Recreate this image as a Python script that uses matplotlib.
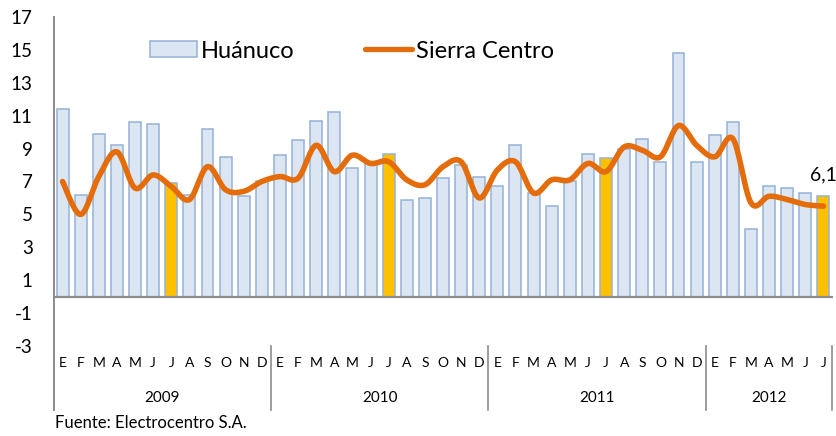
import numpy as np
import matplotlib
matplotlib.use("Agg")
import matplotlib.pyplot as plt
from matplotlib.patches import Patch
from matplotlib.lines import Line2D
import matplotlib.transforms as mtransforms

plt.rcParams['font.family'] = ['Lato', 'DejaVu Sans']

months = ["E", "F", "M", "A", "M", "J", "J", "A", "S", "O", "N", "D"]
years = ["2009", "2010", "2011", "2012"]
months_per_year = [12, 12, 12, 7]

huanuco = [11.4, 6.2, 9.9, 9.2, 10.6, 10.5, 6.9, 6.2, 10.2, 8.5, 6.1, 7.0,
           8.6, 9.5, 10.7, 11.2, 7.8, 8.1, 8.7, 5.9, 6.0, 7.2, 8.0, 7.3,
           6.7, 9.2, 6.3, 5.5, 7.0, 8.7, 8.4, 9.0, 9.6, 8.2, 14.8, 8.2,
           9.8, 10.6, 4.1, 6.7, 6.6, 6.3, 6.1]
sierra_centro = [7.0, 5.0, 7.3, 8.8, 6.6, 7.4, 6.7, 5.9, 7.9, 6.5, 6.4, 7.0,
                 7.3, 7.2, 9.2, 7.6, 8.6, 8.1, 8.2, 7.1, 6.8, 7.9, 8.2, 6.0,
                 7.7, 8.2, 6.3, 7.1, 7.1, 8.1, 7.6, 9.1, 8.9, 8.5, 10.4, 9.2,
                 8.5, 9.6, 5.7, 6.1, 5.9, 5.6, 5.5]
last_label = "6,1"

BAR_FILL = "#DCE6F2"
BAR_EDGE = "#95B3D7"
HIGHLIGHT = "#FFC000"
LINE_COLOR = "#E46C0A"
AXIS_GRAY = "#8C8C8C"


def smooth(xs, ys, n=30):
    """Catmull-Rom style smoothing (like Excel's smoothed line)."""
    xs = np.asarray(xs, float)
    ys = np.asarray(ys, float)
    px, py = [], []
    N = len(xs)
    for i in range(N - 1):
        x0, y0 = (xs[i - 1], ys[i - 1]) if i > 0 else (xs[i], ys[i])
        x1, y1 = xs[i], ys[i]
        x2, y2 = xs[i + 1], ys[i + 1]
        x3, y3 = (xs[i + 2], ys[i + 2]) if i + 2 < N else (xs[i + 1], ys[i + 1])
        c1x, c1y = x1 + (x2 - x0) / 6, y1 + (y2 - y0) / 6
        c2x, c2y = x2 - (x3 - x1) / 6, y2 - (y3 - y1) / 6
        t = np.linspace(0, 1, n, endpoint=(i == N - 2))
        b0 = (1 - t) ** 3
        b1 = 3 * (1 - t) ** 2 * t
        b2 = 3 * (1 - t) * t ** 2
        b3 = t ** 3
        px.append(b0 * x1 + b1 * c1x + b2 * c2x + b3 * x2)
        py.append(b0 * y1 + b1 * c1y + b2 * c2y + b3 * y2)
    return np.concatenate(px), np.concatenate(py)


W, H = 836, 436
fig = plt.figure(figsize=(W / 100, H / 100), dpi=100)
left_px, right_px, top_px, bot_px = 53.5, 832.5, 17.0, 346.0
ax = fig.add_axes([left_px / W, 1 - bot_px / H, (right_px - left_px) / W, (bot_px - top_px) / H])

n = len(huanuco)
x = np.arange(n)
month_labels = [months[i % 12] for i in range(n)]
colors = [HIGHLIGHT if (i % 12) == 6 else BAR_FILL for i in range(n)]

ax.bar(x, huanuco, width=0.66, color=colors, edgecolor=BAR_EDGE, linewidth=1.1, zorder=2)
sx, sy = smooth(x, sierra_centro)
ax.plot(sx, sy, color=LINE_COLOR, lw=4.0, solid_capstyle='round', solid_joinstyle='round', zorder=3)

ax.axhline(0, color=AXIS_GRAY, lw=1.6, zorder=4)

ax.set_xlim(-0.5, n - 0.5)
ax.set_ylim(-3, 17)
ax.set_yticks(np.arange(-3, 18, 2))
ax.set_yticklabels([str(v) for v in range(-3, 18, 2)])
ax.tick_params(axis='y', length=0, pad=15, labelsize=13.5)
ax.set_xticks([])
for s in ["top", "right", "bottom", "left"]:
    ax.spines[s].set_visible(False)

# left axis line (extends into the category label area)
ax.add_line(Line2D([0, 0], [1.0, -0.195], transform=ax.transAxes, color=AXIS_GRAY, lw=1.4, clip_on=False))

# multi-level category axis
blend = mtransforms.blended_transform_factory(ax.transData, ax.transAxes)
for i, lab in enumerate(month_labels):
    ax.text(i, -0.052, lab, transform=blend, ha='center', va='center', fontsize=10, color='#000000')
start = 0
for yr, cnt in zip(years, months_per_year):
    end = start + cnt
    ax.text((start + end - 1) / 2, -0.158, yr, transform=blend, ha='center', va='center', fontsize=11)
    ax.add_line(Line2D([end - 0.5, end - 0.5], [0, -0.195], transform=blend, color=AXIS_GRAY,
                       lw=1.2, clip_on=False))
    start = end

# data label for last bar
ax.text(n - 1, 7.4, last_label, ha='center', va='center', fontsize=14, clip_on=False)

# legend
handles = [Patch(facecolor=BAR_FILL, edgecolor=BAR_EDGE, linewidth=1.1),
           Line2D([], [], color=LINE_COLOR, lw=3.8, solid_capstyle='round')]
leg = ax.legend(handles, ["Huánuco", "Sierra Centro"], ncol=2, loc='center left',
                bbox_to_anchor=((150 - left_px) / (right_px - left_px), (bot_px - 51) / (bot_px - top_px)),
                frameon=False, fontsize=17, handlelength=2.0, handletextpad=0.15,
                columnspacing=3.0, borderpad=0, borderaxespad=0, handleheight=0.7)

fig.text(55 / W, 1 - 423 / H, "Fuente: Electrocentro S.A.", ha='left', va='center', fontsize=12)

fig.savefig("out.png", dpi=100)
